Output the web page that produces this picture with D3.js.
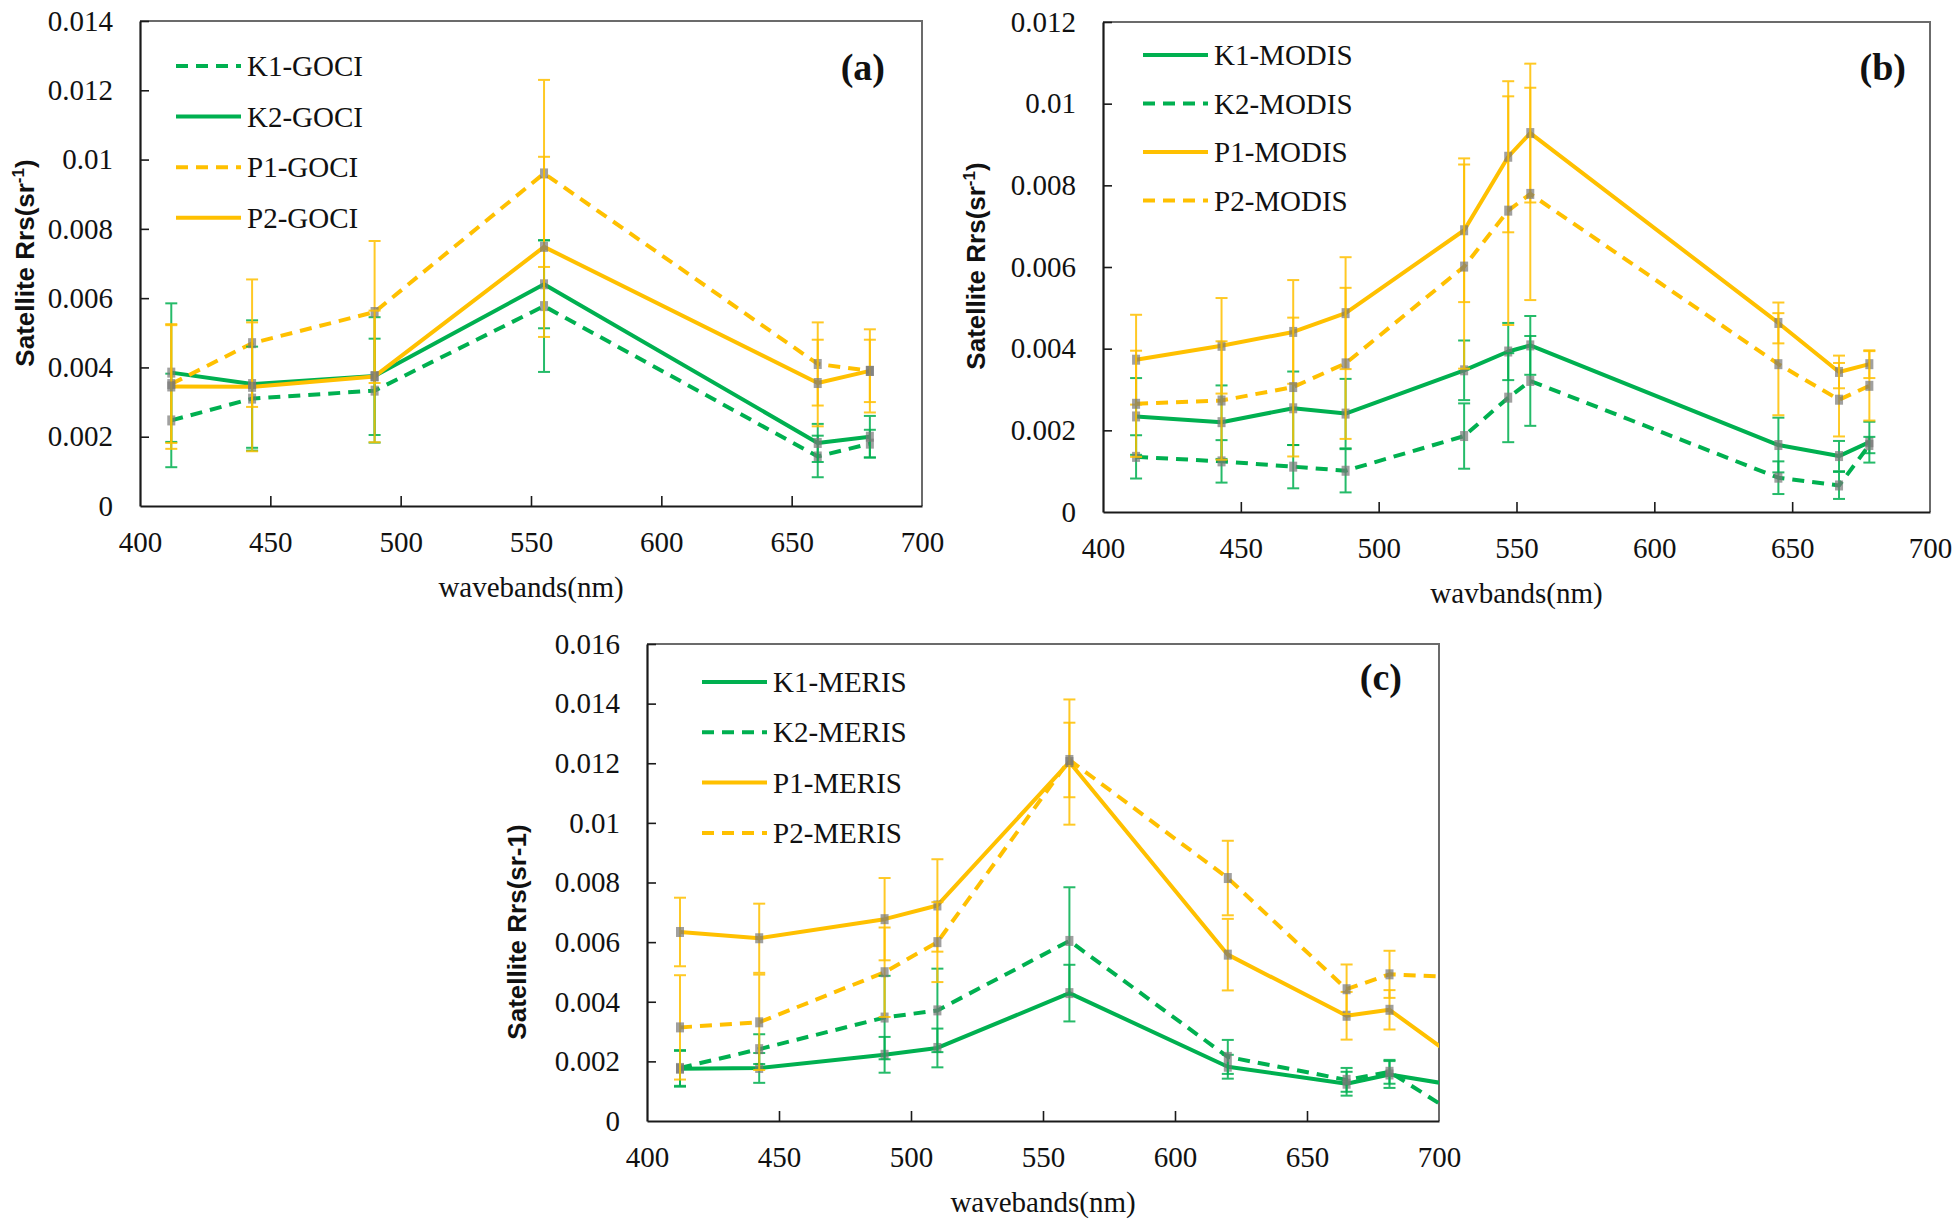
<!DOCTYPE html>
<html>
<head>
<meta charset="utf-8">
<script src="https://cdn.jsdelivr.net/npm/d3@7"></script>
<style>
  body { margin: 0; background: #fff; }
  svg text { font-family: "Liberation Serif", "Times New Roman", serif; fill: #111; }
</style>
</head>
<body>
<svg id="chart" width="1960" height="1224"></svg>
<script>
// ---- GOCI (a) ----
var gociBands = [412, 443, 490, 555, 660, 680];
var gociK1 = [0.00247, 0.0031, 0.00333, 0.00577, 0.00143, 0.0018];
var gociK1Err = [0.00135, 0.0015, 0.0015, 0.0019, 0.0006, 0.0004];
var gociK2 = [0.00385, 0.00352, 0.00375, 0.0064, 0.00182, 0.002];
var gociK2Err = [0.002, 0.00184, 0.0017, 0.00127, 0.00055, 0.0006];
var gociP1 = [0.00352, 0.0047, 0.0056, 0.0096, 0.0041, 0.0039];
var gociP1Err = [0.0017, 0.00184, 0.00205, 0.0027, 0.0012, 0.0012];
var gociP2 = [0.00345, 0.00344, 0.00374, 0.00748, 0.00355, 0.0039];
var gociP2Err = [0.0018, 0.00186, 0.0019, 0.0026, 0.00125, 0.0009];

// ---- MODIS (b) ----
var modisBands = [412, 443, 469, 488, 531, 547, 555, 645, 667, 678];
var modisK1 = [0.00234, 0.0022, 0.00254, 0.00241, 0.00347, 0.00393, 0.00408, 0.00164, 0.00137, 0.00171];
var modisK1Err = [0.00094, 0.0009, 0.0009, 0.00085, 0.00073, 0.0007, 0.00072, 0.00067, 0.00037, 0.0005];
var modisK2 = [0.00135, 0.00124, 0.00111, 0.00101, 0.00186, 0.0028, 0.00321, 0.00084, 0.00065, 0.00164];
var modisK2Err = [0.00053, 0.00052, 0.00053, 0.00053, 0.0008, 0.00109, 0.0011, 0.0004, 0.00033, 0.0002];
var modisP1 = [0.00373, 0.00407, 0.00441, 0.00487, 0.0069, 0.0087, 0.00928, 0.00463, 0.00343, 0.00362];
var modisP1Err = [0.0011, 0.00117, 0.00127, 0.00137, 0.00176, 0.00185, 0.0017, 0.0005, 0.0004, 0.00034];
var modisP2 = [0.00265, 0.00273, 0.00306, 0.00364, 0.00601, 0.00738, 0.00779, 0.00362, 0.00275, 0.00309];
var modisP2Err = [0.0013, 0.00145, 0.0017, 0.00185, 0.0025, 0.0028, 0.0026, 0.00125, 0.0009, 0.00085];

// ---- MERIS (c) ---- last band lies past the 700 axis end and gets clipped
var merisBands = [412.5, 442.5, 490, 510, 560, 620, 665, 681.25, 708.75];
var merisK1 = [0.00175, 0.00178, 0.00222, 0.00245, 0.00429, 0.00182, 0.00125, 0.00156, 0.00116];
var merisK1Err = [0.0006, 0.0005, 0.0006, 0.00065, 0.00095, 0.0004, 0.0004, 0.00045, null];
var merisK2 = [0.00178, 0.00241, 0.00347, 0.00371, 0.00604, 0.00215, 0.00138, 0.00165, 0.0001];
var merisK2Err = [0.0006, 0.0005, 0.0014, 0.0014, 0.0018, 0.00057, 0.0004, 0.0004, null];
var merisP1 = [0.00634, 0.00613, 0.00677, 0.00723, 0.01204, 0.00558, 0.00353, 0.00373, 0.00196];
var merisP1Err = [0.00115, 0.00116, 0.00138, 0.00155, 0.0021, 0.0012, 0.0008, 0.00066, null];
var merisP2 = [0.00314, 0.00331, 0.00499, 0.006, 0.01211, 0.00815, 0.00442, 0.00492, 0.00482];
var merisP2Err = [0.00175, 0.0016, 0.0015, 0.00134, 0.00125, 0.00125, 0.00083, 0.00079, null];

var green = "#00b050";
var yellow = "#ffc000";

var svg = d3.select("#chart");

function drawPanel(p) {
    var x = d3.scaleLinear().domain([400, 700]).range([p.left, p.right]);
    var y = d3.scaleLinear().domain([0, p.yMax]).range([p.bottom, p.top]);
    var g = svg.append("g");

    // clip to plot area
    g.append("clipPath").attr("id", "clip-" + p.id)
        .append("rect")
        .attr("x", p.left).attr("y", p.top - 10)
        .attr("width", p.right - p.left).attr("height", p.bottom - p.top + 10);

    // top/right frame in grey
    g.append("path")
        .attr("d", `M${p.left},${p.top}H${p.right}V${p.bottom}`)
        .attr("fill", "none").attr("stroke", "#6b6b6b").attr("stroke-width", 2);

    var yAxis = d3.axisLeft(y).tickValues(d3.range(0, p.yMax + 1e-9, 0.002))
        .tickSizeInner(-9).tickSizeOuter(0).tickPadding(27)
        .tickFormat(d => d === 0 ? "0" : String(+d.toFixed(3)));
    var xAxis = d3.axisBottom(x).tickValues(d3.range(400, 701, 50))
        .tickSizeInner(-10).tickSizeOuter(0).tickPadding(25);

    var ya = g.append("g").attr("transform", `translate(${p.left},0)`).call(yAxis);
    var xa = g.append("g").attr("transform", `translate(0,${p.bottom})`).call(xAxis);
    [ya, xa].forEach(function(a) {
        a.select(".domain").attr("stroke", "#1a1a1a").attr("stroke-width", 2.2);
        a.selectAll(".tick line").attr("stroke", "#1a1a1a").attr("stroke-width", 1.6);
        a.selectAll("text").attr("font-size", 29).attr("fill", "#111")
            .style("font-family", "'Liberation Serif', serif");
    });
    ya.selectAll(".tick").filter(d => d === 0).select("line").remove();
    xa.selectAll(".tick").filter(d => d === 400 || d === 700).select("line").remove();

    var plot = g.append("g").attr("clip-path", `url(#clip-${p.id})`);
    var line = d3.line().x(d => x(d.b)).y(d => y(d.v));

    p.series.forEach(function(s) {
        var pts = p.bands.map((b, i) => ({ b: b, v: s.values[i], e: s.errs[i] }));
        plot.append("path")
            .datum(pts)
            .attr("d", line)
            .attr("fill", "none")
            .attr("stroke", s.color)
            .attr("stroke-width", 4)
            .attr("stroke-linejoin", "round")
            .attr("stroke-dasharray", s.dashed ? "12,8" : null);
    });

    // error bars and grey point markers
    p.series.forEach(function(s) {
        var pts = p.bands.map((b, i) => ({ b: b, v: s.values[i], e: s.errs[i] }))
            .filter(d => d.e != null);
        var eb = plot.append("g").attr("stroke", s.color).attr("stroke-width", 2).attr("opacity", 0.85);
        eb.selectAll("line.bar").data(pts).enter().append("line")
            .attr("x1", d => x(d.b)).attr("x2", d => x(d.b))
            .attr("y1", d => y(d.v + d.e)).attr("y2", d => y(d.v - d.e));
        eb.selectAll("line.capt").data(pts).enter().append("line")
            .attr("x1", d => x(d.b) - 6).attr("x2", d => x(d.b) + 6)
            .attr("y1", d => y(d.v + d.e)).attr("y2", d => y(d.v + d.e));
        eb.selectAll("line.capb").data(pts).enter().append("line")
            .attr("x1", d => x(d.b) - 6).attr("x2", d => x(d.b) + 6)
            .attr("y1", d => y(d.v - d.e)).attr("y2", d => y(d.v - d.e));
        plot.append("g").selectAll("rect").data(pts).enter().append("rect")
            .attr("x", d => x(d.b) - 4).attr("y", d => y(d.v) - 5)
            .attr("width", 8).attr("height", 10)
            .attr("fill", "#777").attr("opacity", 0.7);
    });

    // legend
    p.series.forEach(function(s, i) {
        var ly = p.legend.y + i * p.legend.step;
        g.append("line")
            .attr("x1", p.legend.x).attr("x2", p.legend.x + 65)
            .attr("y1", ly).attr("y2", ly)
            .attr("stroke", s.color).attr("stroke-width", 4)
            .attr("stroke-dasharray", s.dashed ? "12,8" : null);
        g.append("text")
            .attr("x", p.legend.x + 71).attr("y", ly).attr("dy", "0.35em")
            .attr("font-size", 29)
            .text(s.name);
    });

    // panel letter
    g.append("text")
        .attr("x", p.letter.x).attr("y", p.letter.y)
        .attr("text-anchor", "end")
        .attr("font-size", 38).attr("font-weight", "bold")
        .text(p.letter.text);

    // x title
    g.append("text")
        .attr("x", (p.left + p.right) / 2).attr("y", p.bottom + 91)
        .attr("text-anchor", "middle").attr("font-size", 29)
        .text(p.xTitle);

    // y title
    var yt = g.append("text")
        .attr("transform", `translate(${p.yTitle.x},${p.yTitle.y}) rotate(-90)`)
        .attr("text-anchor", "middle").attr("dy", "0.35em")
        .attr("font-size", 26).attr("font-weight", "bold")
        .style("font-family", "'Liberation Sans', Arial, sans-serif");
    if (p.yTitle.sup) {
        yt.append("tspan").text("Satellite Rrs(sr");
        yt.append("tspan").attr("font-size", 17).attr("dy", -10).text("-1");
        yt.append("tspan").attr("dy", 10).text(")");
    } else {
        yt.text("Satellite Rrs(sr-1)");
    }
}

drawPanel({
    id: "a", left: 140, right: 922, top: 21, bottom: 506, yMax: 0.014,
    bands: gociBands,
    series: [
        { name: "K1-GOCI", values: gociK1, errs: gociK1Err, color: green, dashed: true },
        { name: "K2-GOCI", values: gociK2, errs: gociK2Err, color: green, dashed: false },
        { name: "P1-GOCI", values: gociP1, errs: gociP1Err, color: yellow, dashed: true },
        { name: "P2-GOCI", values: gociP2, errs: gociP2Err, color: yellow, dashed: false }
    ],
    legend: { x: 176, y: 66, step: 50.6 },
    letter: { text: "(a)", x: 885, y: 80 },
    xTitle: "wavebands(nm)",
    yTitle: { x: 25, y: 263, sup: true }
});

drawPanel({
    id: "b", left: 1103, right: 1930, top: 22, bottom: 512, yMax: 0.012,
    bands: modisBands,
    series: [
        { name: "K1-MODIS", values: modisK1, errs: modisK1Err, color: green, dashed: false },
        { name: "K2-MODIS", values: modisK2, errs: modisK2Err, color: green, dashed: true },
        { name: "P1-MODIS", values: modisP1, errs: modisP1Err, color: yellow, dashed: false },
        { name: "P2-MODIS", values: modisP2, errs: modisP2Err, color: yellow, dashed: true }
    ],
    legend: { x: 1143, y: 55, step: 48.5 },
    letter: { text: "(b)", x: 1906, y: 80 },
    xTitle: "wavbands(nm)",
    yTitle: { x: 976, y: 266, sup: true }
});

drawPanel({
    id: "c", left: 647, right: 1439, top: 644, bottom: 1121, yMax: 0.016,
    bands: merisBands,
    series: [
        { name: "K1-MERIS", values: merisK1, errs: merisK1Err, color: green, dashed: false },
        { name: "K2-MERIS", values: merisK2, errs: merisK2Err, color: green, dashed: true },
        { name: "P1-MERIS", values: merisP1, errs: merisP1Err, color: yellow, dashed: false },
        { name: "P2-MERIS", values: merisP2, errs: merisP2Err, color: yellow, dashed: true }
    ],
    legend: { x: 702, y: 682, step: 50.3 },
    letter: { text: "(c)", x: 1402, y: 690 },
    xTitle: "wavebands(nm)",
    yTitle: { x: 517, y: 932, sup: false }
});
</script>
</body>
</html>
